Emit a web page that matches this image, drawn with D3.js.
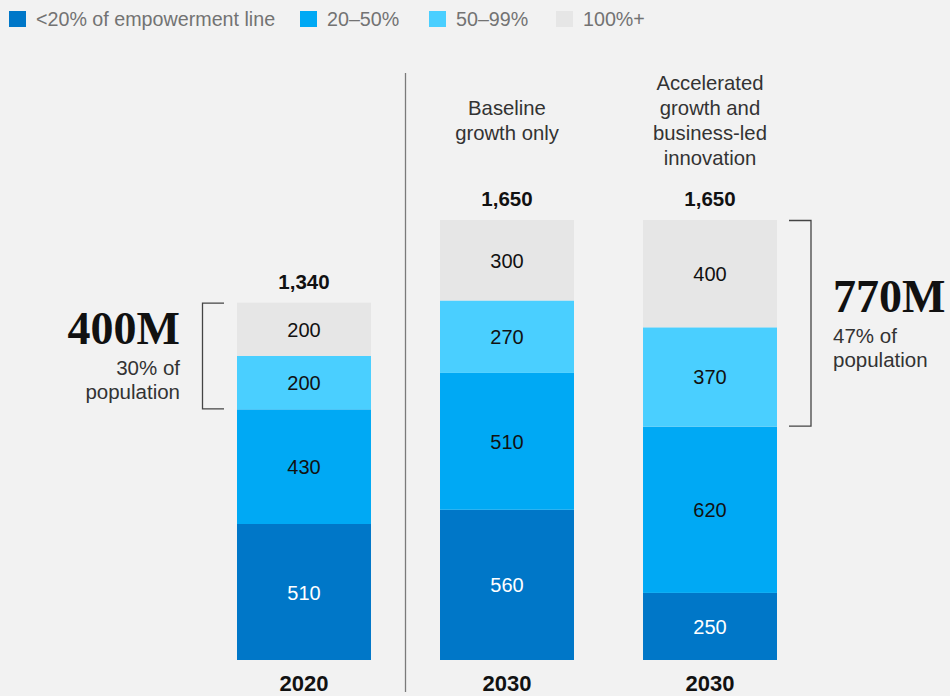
<!DOCTYPE html>
<html>
<head>
<meta charset="utf-8">
<script src="https://cdn.jsdelivr.net/npm/d3@7/dist/d3.min.js"></script>
<style>
  html, body { margin: 0; padding: 0; background: #f2f2f2; }
  svg { display: block; }
</style>
</head>
<body>
<svg id="chart" width="950" height="696"></svg>
<script>
const seriesNames = ["<20% of empowerment line", "20–50%", "50–99%", "100%+"];
const seriesColors = ["#0077c8", "#00a9f4", "#4acfff", "#e6e6e6"];
const labelColors = ["#ffffff", "#111111", "#111111", "#111111"];
const barKeys = ["b2020", "b2030base", "b2030acc"];
const yearLabels = ["2020", "2030", "2030"];
const totals = [1340, 1650, 1650];
const lowValues = [510, 560, 250];
const midValues = [430, 510, 620];
const highValues = [200, 270, 370];
const topValues = [200, 300, 400];
const scenarioLabels = [[], ["Baseline", "growth only"], ["Accelerated", "growth and", "business-led", "innovation"]];
const callouts = [
  { big: "400M", lines: ["30% of", "population"], bar: 0, from: 2, side: "left" },
  { big: "770M", lines: ["47% of", "population"], bar: 2, from: 2, side: "right" }
];

const SANS = "'Liberation Sans', Arial, Helvetica, sans-serif";
const SERIF = "'Liberation Serif', 'Times New Roman', serif";

const svg = d3.select("#chart").style("font-family", SANS);
const baseY = 660;

const x = d3.scaleBand().domain(barKeys).range([186.25, 827.75]).paddingInner(0.34).paddingOuter(0.25);
const y = d3.scaleLinear().domain([0, 1650]).range([baseY, 220]);

// Stacked data, scaled so each bar reaches its stated total
const stacks = barKeys.map((k, i) => {
  const vals = [lowValues[i], midValues[i], highValues[i], topValues[i]];
  const sum = d3.sum(vals);
  let acc = 0;
  return vals.map((v, j) => {
    const y0 = acc;
    acc += v / sum * totals[i];
    return { key: k, bar: i, series: j, value: v, y0: y0, y1: acc };
  });
});

// Legend
const legendX = [9, 300, 429, 556];
const legend = svg.append("g");
seriesNames.forEach((n, i) => {
  legend.append("rect").attr("x", legendX[i]).attr("y", 11).attr("width", 17).attr("height", 16).attr("fill", seriesColors[i]);
  legend.append("text").attr("x", legendX[i] + 27).attr("y", 26)
    .style("font-size", "19.7px").attr("fill", "#737373").text(n);
});

// Divider
svg.append("line").attr("x1", 405.5).attr("x2", 405.5).attr("y1", 73).attr("y2", 692)
  .attr("stroke", "#7a7a7a").attr("stroke-width", 1.3);

// Bars
const bars = svg.append("g");
stacks.forEach(st => {
  st.forEach(d => {
    bars.append("rect")
      .attr("x", x(d.key)).attr("width", x.bandwidth())
      .attr("y", y(d.y1)).attr("height", y(d.y0) - y(d.y1))
      .attr("fill", seriesColors[d.series]);
    bars.append("text")
      .attr("x", x(d.key) + x.bandwidth() / 2)
      .attr("y", (y(d.y0) + y(d.y1)) / 2 + 7.5)
      .attr("text-anchor", "middle").style("font-size", "20px")
      .attr("fill", labelColors[d.series])
      .text(d3.format(",")(d.value));
  });
});

// Totals, years, scenario headers
barKeys.forEach((k, i) => {
  const cx = x(k) + x.bandwidth() / 2;
  svg.append("text").attr("x", cx).attr("y", y(totals[i]) - 14)
    .attr("text-anchor", "middle").style("font-size", "20.5px").style("font-weight", "bold").attr("fill", "#111")
    .text(d3.format(",")(totals[i]));
  svg.append("text").attr("x", cx).attr("y", 690.5)
    .attr("text-anchor", "middle").style("font-size", "22px").style("font-weight", "bold").attr("fill", "#111")
    .text(yearLabels[i]);
  const lines = scenarioLabels[i];
  lines.forEach((l, j) => {
    svg.append("text").attr("x", cx)
      .attr("y", 119.5 + (j - (lines.length - 1) / 2) * 25 + 7.5)
      .attr("text-anchor", "middle").style("font-size", "20.3px").attr("fill", "#333")
      .text(l);
  });
});

// Callouts
callouts.forEach(c => {
  const st = stacks[c.bar];
  const yTop = y(st[st.length - 1].y1);
  const yBot = y(st[c.from].y0);
  const g = svg.append("g");
  let vx, tx0, anchor, textX;
  if (c.side === "left") {
    vx = 202.5; tx0 = 224; anchor = "end"; textX = 180;
  } else {
    vx = 811; tx0 = 789; anchor = "start"; textX = 833;
  }
  g.append("path")
    .attr("d", `M${tx0},${yTop + 0.5}H${vx}V${yBot - 0.5}H${tx0}`)
    .attr("fill", "none").attr("stroke", "#444").attr("stroke-width", 1.3);
  const mid = (yTop + yBot) / 2;
  const bigY = c.side === "left" ? mid - 12 : mid - 11;
  g.append("text").attr("x", textX).attr("y", bigY)
    .attr("text-anchor", anchor).style("font-family", SERIF)
    .style("font-weight", "bold").style("font-size", "46px").attr("fill", "#111").text(c.big);
  c.lines.forEach((l, j) => {
    g.append("text").attr("x", textX).attr("y", bigY + 31 + j * 24)
      .attr("text-anchor", anchor).style("font-size", "20.5px").attr("fill", "#333").text(l);
  });
});
</script>
</body>
</html>
